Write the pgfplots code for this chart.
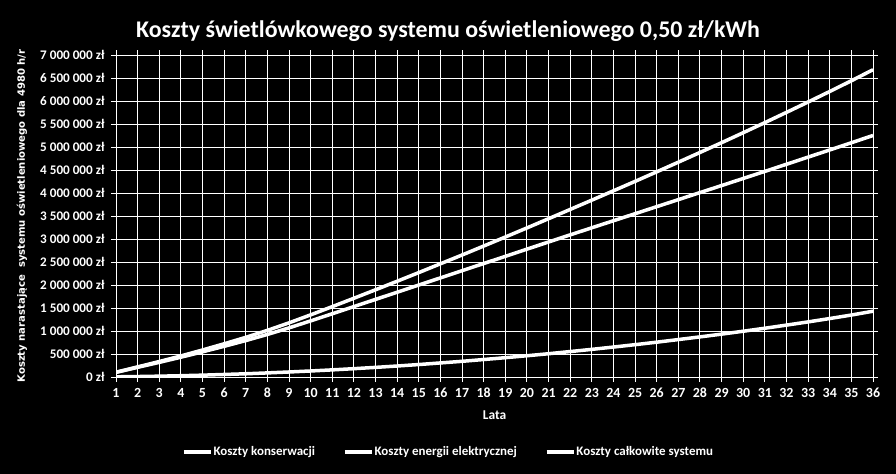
\documentclass[border=0pt]{standalone}
\usepackage{pgfplots}
\pgfplotsset{compat=1.18}
\usepackage{pgfplotstable}
\usepackage{fontspec}
\setmainfont{Carlito}
\newfontfamily\dejavu{DejaVu Sans}

\pgfplotstableread{
year energy maint total
1 100000 4000 104000
2 210000 10000 220000
3 318000 18000 336000
4 430000 28000 458000
5 547000 40000 587000
6 667000 55000 722000
7 792000 70000 862000
8 925000 89000 1014000
9 1068000 109000 1177000
10 1220000 131000 1351000
11 1375000 155000 1530000
12 1531000 181000 1712000
13 1687000 209000 1896000
14 1843000 239000 2082000
15 1999000 271000 2270000
16 2155000 306000 2461000
17 2311000 341000 2652000
18 2467000 380000 2847000
19 2623000 420000 3043000
20 2779000 462000 3241000
21 2935000 506000 3441000
22 3090000 553000 3643000
23 3244000 601000 3845000
24 3397000 651000 4048000
25 3550000 703000 4253000
26 3703000 757000 4460000
27 3856000 814000 4670000
28 4009000 872000 4881000
29 4162000 932000 5094000
30 4316000 995000 5311000
31 4470000 1060000 5530000
32 4625000 1128000 5753000
33 4780000 1198000 5978000
34 4936000 1271000 6207000
35 5093000 1347000 6440000
36 5250000 1430000 6680000
}\data

\begin{document}
\begin{tikzpicture}
\useasboundingbox (0,0) rectangle (896bp,474bp);
\fill[black] (0,0) rectangle (896bp,474bp);
\begin{axis}[
  at={(116bp,97bp)}, anchor=south west,
  scale only axis, width=757bp, height=322bp,
  xmin=1, xmax=36, ymin=0, ymax=7000000,
  xtick={1,2,...,36},
  ytick={0,500000,1000000,1500000,2000000,2500000,3000000,3500000,4000000,4500000,5000000,5500000,6000000,6500000,7000000},
  yticklabels={0 zł,500 000 zł,1 000 000 zł,1 500 000 zł,2 000 000 zł,2 500 000 zł,3 000 000 zł,3 500 000 zł,4 000 000 zł,4 500 000 zł,5 000 000 zł,5 500 000 zł,6 000 000 zł,6 500 000 zł,7 000 000 zł},
  scaled y ticks=false,
  /pgf/number format/assume math mode=true,
  typeset ticklabels with strut,
  axis line style={white, line width=1bp},
  grid=major,
  major grid style={white, line width=1bp},
  tick align=outside,
  major tick length=5bp,
  tick style={white, line width=1bp},
  xticklabel style={text=white, font=\fontsize{14}{14}\selectfont\bfseries, yshift=-2.5bp},
  yticklabel style={text=white, font=\fontsize{13.2}{13.2}\selectfont\bfseries, xshift=-3bp, yshift=-2bp},
  title={Koszty świetlówkowego systemu oświetleniowego 0,50 zł/kWh},
  title style={text=white, font=\fontsize{24}{24}\selectfont\bfseries, anchor=base, at={(axis description cs:0.4386,1.0373)}},
  xlabel={Lata},
  xlabel style={text=white, font=\fontsize{13.5}{13.5}\selectfont\bfseries, anchor=base, at={(axis description cs:0.5,-0.1335)}},
  ylabel={Koszty narastające\hspace{0.7em}systemu oświetleniowego dla 4980 h/r},
  ylabel style={text=white, font=\dejavu\fontsize{10.1}{10.1}\selectfont\bfseries, anchor=center, at={(axis description cs:-0.1242,0.5)}},
  legend columns=3,
  legend style={at={(axis description cs:0.4386,-0.233)}, anchor=center, draw=none, fill=black, text=white,
    font=\fontsize{13}{13}\selectfont\bfseries,
    nodes={inner xsep=1bp, inner ysep=2bp},
    /tikz/every even column/.append style={column sep=27bp}},
  legend image code/.code={\draw[#1, line width=3.5bp] (0bp,0bp) -- (27bp,0bp);},
]
\addplot[white, line width=3.5bp, no marks, line join=round] table[x=year, y=maint] {\data};
\addlegendentry{Koszty konserwacji}
\addplot[white, line width=3.5bp, no marks, line join=round] table[x=year, y=energy] {\data};
\addlegendentry{Koszty energii elektrycznej}
\addplot[white, line width=3.5bp, no marks, line join=round] table[x=year, y=total] {\data};
\addlegendentry{Koszty całkowite systemu}
\end{axis}
\end{tikzpicture}
\end{document}
